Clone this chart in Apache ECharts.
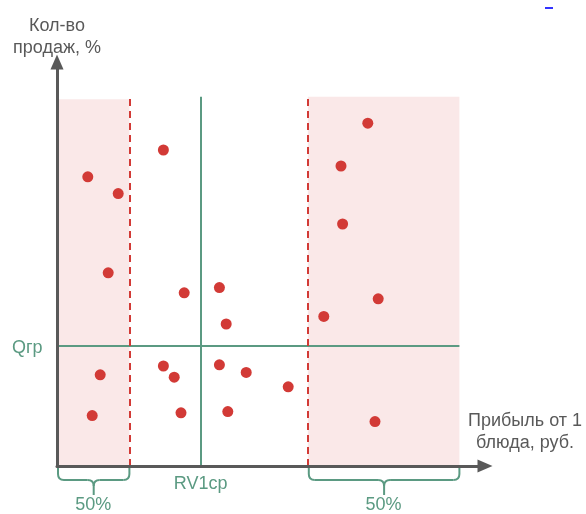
<!DOCTYPE html>
<html>
<head>
<meta charset="utf-8">
<script src="https://cdn.jsdelivr.net/npm/echarts@6/dist/echarts.min.js"></script>
<style>
html, body { margin: 0; padding: 0; background: #fff; }
#chart { width: 586px; height: 514px; }
</style>
</head>
<body>
<div id="chart"></div>
<script>
// точки: прибыль от 1 блюда (x) и кол-во продаж (y)
let profit_list = [7.7, 15.3, 26.6, 12.8, 31.8, 40.6, 42.3, 10.8, 8.8, 26.6, 29.3, 31.0, 40.6, 47.3, 42.7, 57.8, 77.7, 71.0, 71.4, 66.7, 80.3, 79.5];
let sales_list = [72.3, 68.1, 79.0, 48.3, 43.3, 44.6, 35.5, 22.8, 12.6, 25.0, 22.2, 13.3, 25.3, 23.4, 13.6, 19.8, 85.7, 75.0, 60.5, 37.4, 41.8, 11.1];
let left_band = [0, 18.1]; // левые 50%
let right_band = [62.7, 100.6]; // правые 50%
let band_top = [91.7, 92.3];
let rv_avg = 35.9; // RV1ср
let q_gr = 30.1; // Qгр
let band_labels = ['50%', '50%'];

let green = '#5b9a82';
let red = '#d23a36';
let grey = '#595959';
let font = 'Liberation Sans, Arial, sans-serif';

let chart = echarts.init(document.getElementById('chart'));

let points = [];
for (let i = 0; i < profit_list.length; i++) {
	points.push([profit_list[i], sales_list[i]]);
}

let axis_line = {
	show: true,
	onZero: false,
	symbol: ['none', 'triangle'],
	symbolSize: [13, 15],
	lineStyle: { color: grey, width: 3 },
};

chart.setOption({
	animation: false,
	grid: { left: 57, right: 101, top: 62, bottom: 48, containLabel: false },
	xAxis: {
		type: 'value',
		min: 0,
		max: 107,
		z: 10,
		axisLine: axis_line,
		axisTick: { show: false },
		axisLabel: { show: false },
		splitLine: { show: false },
		name: 'Прибыль от 1\nблюда, руб.',
		nameLocation: 'end',
		nameGap: 40,
		nameTextStyle: {
			color: grey,
			fontFamily: font,
			fontSize: 18,
			lineHeight: 22,
			align: 'center',
			verticalAlign: 'bottom',
			padding: [0, 0, 12, 0],
		},
	},
	yAxis: {
		type: 'value',
		min: 0,
		max: 101,
		z: 10,
		axisLine: axis_line,
		axisTick: { show: false },
		axisLabel: { show: false },
		splitLine: { show: false },
		name: 'Кол-во\nпродаж, %',
		nameLocation: 'end',
		nameGap: 3,
		nameTextStyle: {
			color: grey,
			fontFamily: font,
			fontSize: 18,
			lineHeight: 22,
			align: 'center',
			verticalAlign: 'bottom',
		},
	},
	series: [
		{
			type: 'scatter',
			data: points,
			symbolSize: 11,
			itemStyle: { color: red, opacity: 1 },
			z: 5,
			markArea: {
				silent: true,
				itemStyle: { color: '#fae8e8' },
				data: [
					[{ coord: [left_band[0], 0] }, { coord: [left_band[1], band_top[0]] }],
					[{ coord: [right_band[0], 0] }, { coord: [right_band[1], band_top[1]] }],
				],
			},
			markLine: {
				silent: true,
				symbol: ['none', 'none'],
				label: { show: false },
				data: [
					[{ coord: [rv_avg, 0], lineStyle: { color: green, width: 2, type: 'solid' } }, { coord: [rv_avg, band_top[1]] }],
					[{ coord: [0, q_gr], lineStyle: { color: green, width: 2, type: 'solid' } }, { coord: [right_band[1], q_gr] }],
					[{ coord: [left_band[1], 0], lineStyle: { color: red, width: 2, type: [7, 5] } }, { coord: [left_band[1], band_top[1]] }],
					[{ coord: [right_band[0], 0], lineStyle: { color: red, width: 2, type: [7, 5] } }, { coord: [right_band[0], band_top[1]] }],
				],
			},
		},
	],
});

// фигурные скобки под осью
let brace_style = { stroke: green, lineWidth: 2, fill: null };
function brace(x1, x2, y0) {
	let r = 6;
	let h = y0 + 13;
	let m = (x1 + x2) / 2;
	let b = y0 + 28;
	let list = [];
	[[x1, 1], [x2, -1]].forEach(([x, d]) => {
		list.push({ type: 'line', shape: { x1: x, y1: y0, x2: x, y2: h - r }, style: brace_style });
		list.push({ type: 'bezierCurve', shape: { x1: x, y1: h - r, cpx1: x, cpy1: h, x2: x + d * r, y2: h }, style: brace_style });
		list.push({ type: 'line', shape: { x1: x + d * r, y1: h, x2: m - d * r, y2: h }, style: brace_style });
		list.push({ type: 'bezierCurve', shape: { x1: m - d * r, y1: h, cpx1: m, cpy1: h, x2: m, y2: h + r }, style: brace_style });
	});
	list.push({ type: 'line', shape: { x1: m, y1: h + r, x2: m, y2: b }, style: brace_style });
	return list;
}

let origin = chart.convertToPixel({ gridIndex: 0 }, [0, 0]);
let graphics = [];
[left_band, right_band].forEach((band, i) => {
	let p1 = chart.convertToPixel({ gridIndex: 0 }, [band[0], 0]);
	let p2 = chart.convertToPixel({ gridIndex: 0 }, [band[1], 0]);
	graphics = graphics.concat(brace(p1[0] + 1, p2[0], origin[1] + 1));
	graphics.push({
		type: 'text',
		x: (p1[0] + p2[0]) / 2,
		y: origin[1] + 39,
		style: { text: band_labels[i], fill: green, font: `18px ${font}`, align: 'center', verticalAlign: 'middle' },
	});
});
let rv = chart.convertToPixel({ gridIndex: 0 }, [rv_avg, 0]);
graphics.push({
	type: 'text',
	x: rv[0],
	y: rv[1] + 18,
	style: { text: 'RV1ср', fill: green, font: `18px ${font}`, align: 'center', verticalAlign: 'middle' },
});
let q = chart.convertToPixel({ gridIndex: 0 }, [0, q_gr]);
graphics.push({
	type: 'text',
	x: 12,
	y: q[1] + 2,
	style: { text: 'Qгр', fill: green, font: `18px ${font}`, align: 'left', verticalAlign: 'middle' },
});
graphics.push({ type: 'rect', shape: { x: 545, y: 7, width: 8, height: 2 }, style: { fill: '#3333ff' } });
chart.setOption({ graphic: graphics });
</script>
</body>
</html>
